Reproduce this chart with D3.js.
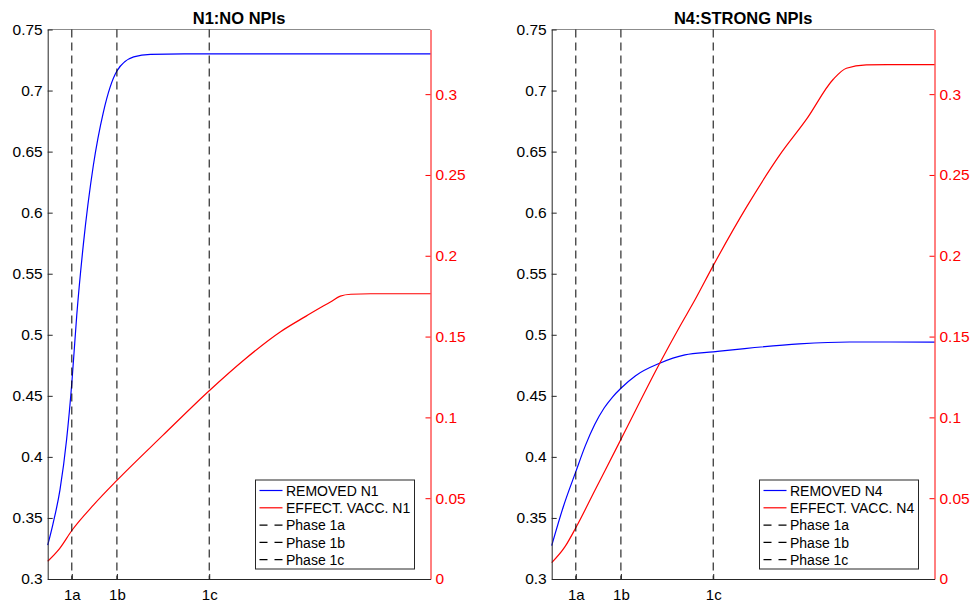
<!DOCTYPE html>
<html>
<head>
<meta charset="utf-8">
<script src="https://cdn.jsdelivr.net/npm/d3@7"></script>
<style>
  html, body { margin: 0; padding: 0; background: #fff; }
  svg { display: block; font-family: "Liberation Sans", Arial, Helvetica, sans-serif; }
</style>
</head>
<body>
<svg id="chart" width="971" height="603"></svg>
<script>
// ---------- DATA ----------
const phaseDays = [23, 66, 154];
const phaseLabels = ["1a", "1b", "1c"];
const leftTicks = [0.3, 0.35, 0.4, 0.45, 0.5, 0.55, 0.6, 0.65, 0.7, 0.75];
const rightTicks = [0, 0.05, 0.1, 0.15, 0.2, 0.25, 0.3];

const titles = ["N1:NO NPIs", "N4:STRONG NPIs"];

const tRemovedN1 = [0, 5, 11.7, 18, 23, 27.7, 34, 43.5, 53, 66, 82, 98, 130, 365];
const removedN1  = [0.3277, 0.345, 0.373, 0.414, 0.4605, 0.516, 0.574, 0.6386, 0.682, 0.716, 0.7276, 0.7297, 0.73, 0.73];

const tVaccN1 = [0, 11.5, 23, 44, 66, 110, 154, 188, 222, 246, 270, 279, 289, 308, 365];
const vaccN1  = [0.011, 0.019, 0.030, 0.046, 0.061, 0.089, 0.1165, 0.136, 0.153, 0.1625, 0.1716, 0.175, 0.1762, 0.1765, 0.1765];

const tRemovedN4 = [0, 11, 23, 32, 41, 50, 58, 66, 80, 103, 127, 154, 184, 236, 284, 365];
const removedN4  = [0.3273, 0.359, 0.3879, 0.409, 0.4265, 0.440, 0.449, 0.4562, 0.4665, 0.4767, 0.4835, 0.486, 0.4887, 0.4925, 0.4941, 0.494];

const tVaccN4 = [0, 12.7, 23, 41, 66, 103, 122, 136.5, 154, 186, 217.5, 243, 268.5, 281, 300, 320, 365];
const vaccN4  = [0.0101, 0.020, 0.0317, 0.0546, 0.0864, 0.1335, 0.1561, 0.1726, 0.1939, 0.2304, 0.2624, 0.2845, 0.3092, 0.316, 0.3181, 0.3183, 0.3183];

const legendN1 = ["REMOVED N1", "EFFECT. VACC. N1", "Phase 1a", "Phase 1b", "Phase 1c"];
const legendN4 = ["REMOVED N4", "EFFECT. VACC. N4", "Phase 1a", "Phase 1b", "Phase 1c"];

// ---------- DRAW ----------
const svg = d3.select("#chart");
const plotTop = 29.5, plotBottom = 579;
const BLUE = "#0000ff", RED = "#ff0000", AX = "#262626";

function fmt(v) { return String(+v.toFixed(2)); }

function panel(x0, x1, title, tR, yR, tV, yV, legendLabels) {
  const g = svg.append("g");
  const x = d3.scaleLinear().domain([0, 365]).range([x0, x1]);
  const yL = d3.scaleLinear().domain([0.3, 0.75]).range([plotBottom, plotTop]);
  const yRt = d3.scaleLinear().domain([0, 0.34]).range([plotBottom, plotTop]);

  // top box line
  g.append("line").attr("x1", x0).attr("x2", x1).attr("y1", plotTop).attr("y2", plotTop)
    .attr("stroke", "#8c8c8c").attr("stroke-width", 1);

  // data lines
  const lineL = d3.line().x(d => x(d[0])).y(d => yL(d[1])).curve(d3.curveMonotoneX);
  const lineR = d3.line().x(d => x(d[0])).y(d => yRt(d[1])).curve(d3.curveMonotoneX);
  g.append("path").datum(tR.map((t, i) => [t, yR[i]])).attr("d", lineL)
    .attr("fill", "none").attr("stroke", BLUE).attr("stroke-width", 1.2);
  g.append("path").datum(tV.map((t, i) => [t, yV[i]])).attr("d", lineR)
    .attr("fill", "none").attr("stroke", RED).attr("stroke-width", 1.2);

  // phase dashed lines
  g.selectAll(".phase").data(phaseDays).enter().append("line")
    .attr("x1", d => x(d)).attr("x2", d => x(d)).attr("y1", plotTop).attr("y2", plotBottom)
    .attr("stroke", "#000").attr("stroke-width", 1).attr("stroke-dasharray", "8,5");

  // left axis
  const axL = d3.axisLeft(yL).tickValues(leftTicks).tickFormat(fmt).tickSizeInner(-5).tickSizeOuter(0).tickPadding(5);
  const gl = g.append("g").attr("transform", `translate(${x0},0)`).call(axL);
  gl.select(".domain").attr("stroke", AX);
  gl.selectAll(".tick line").attr("stroke", AX);
  gl.selectAll("text").attr("fill", "#000").style("font-size", "15.5px");

  // right axis
  const axR = d3.axisRight(yRt).tickValues(rightTicks).tickFormat(fmt).tickSizeInner(-5).tickSizeOuter(0).tickPadding(5);
  const gr = g.append("g").attr("transform", `translate(${x1},0)`).call(axR);
  gr.select(".domain").attr("stroke", RED);
  gr.selectAll(".tick line").attr("stroke", RED);
  gr.selectAll("text").attr("fill", RED).style("font-size", "15.5px");

  // bottom axis
  const axB = d3.axisBottom(x).tickValues(phaseDays).tickFormat((d, i) => phaseLabels[i]).tickSizeInner(-5).tickSizeOuter(0).tickPadding(10);
  const gb = g.append("g").attr("transform", `translate(0,${plotBottom})`).call(axB);
  gb.select(".domain").attr("stroke", AX);
  gb.selectAll(".tick line").attr("stroke", AX);
  gb.selectAll("text").attr("fill", "#000").style("font-size", "15px");

  // title
  g.append("text").attr("x", (x0 + x1) / 2).attr("y", 23.5).attr("text-anchor", "middle")
    .style("font-size", "16.5px").style("font-weight", "bold").text(title);

  // legend
  const rowH = 17.3, bw = 159, bh = 89;
  const bx = x1 - 16 - bw, by = plotBottom - 10 - bh;
  const lg = g.append("g");
  lg.append("rect").attr("x", bx).attr("y", by).attr("width", bw).attr("height", bh)
    .attr("fill", "#fff").attr("stroke", AX).attr("stroke-width", 1);
  const styles = [
    { c: BLUE, dash: null }, { c: RED, dash: null },
    { c: "#000", dash: "8,7" }, { c: "#000", dash: "8,7" }, { c: "#000", dash: "8,7" }
  ];
  legendLabels.forEach((lab, i) => {
    const yy = by + 10.5 + i * rowH;
    lg.append("line").attr("x1", bx + 4).attr("x2", bx + 27).attr("y1", yy).attr("y2", yy)
      .attr("stroke", styles[i].c).attr("stroke-width", 1.2)
      .attr("stroke-dasharray", styles[i].dash);
    lg.append("text").attr("x", bx + 30.5).attr("y", yy + 5.2).style("font-size", "14px")
      .attr("fill", "#000").text(lab);
  });
}

panel(47.7, 430.5, titles[0], tRemovedN1, removedN1, tVaccN1, vaccN1, legendN1);
panel(551.7, 934.5, titles[1], tRemovedN4, removedN4, tVaccN4, vaccN4, legendN4);
</script>
</body>
</html>
